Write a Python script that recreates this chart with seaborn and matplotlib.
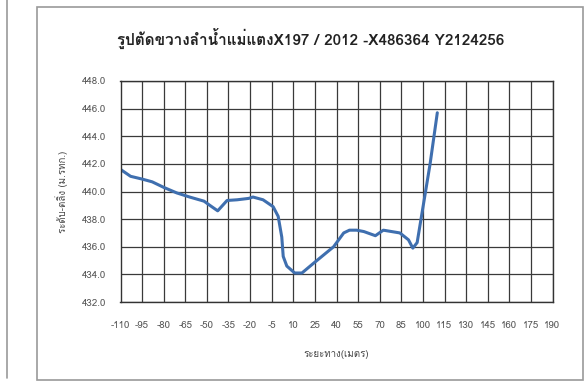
import matplotlib
matplotlib.use("Agg")
import matplotlib.pyplot as plt
from matplotlib import font_manager
from matplotlib.ft2font import FT2Font
from matplotlib.lines import Line2D
from matplotlib.patches import Rectangle
import seaborn as sns
import pandas as pd

# ---- data ----
distance = [-110, -103, -95, -88, -80, -71, -62, -52, -48, -42.5, -36, -29, -21,
            -18, -11, -4, -0.5, 2, 3, 5.5, 11, 16, 24, 38, 45, 49, 54, 59, 67,
            72.5, 84, 90, 93, 96, 99, 105, 110]
elevation = [441.6, 441.1, 440.9, 440.7, 440.3, 439.9, 439.6, 439.3, 439.0, 438.6,
             439.35, 439.4, 439.5, 439.6, 439.4, 438.9, 438.2, 436.7, 435.3, 434.6,
             434.1, 434.1, 434.8, 436.0, 437.0, 437.2, 437.2, 437.1, 436.8,
             437.2, 437.0, 436.5, 435.9, 436.3, 438.2, 442.0, 445.7]
x_ticks = list(range(-110, 191, 15))
y_ticks = [432.0, 434.0, 436.0, 438.0, 440.0, 442.0, 444.0, 446.0, 448.0]
title = "รูปตัดขวางลำน้ำแม่แตงX197 / 2012 -X486364 Y2124256"
x_label = "ระยะทาง(เมตร)"
y_label = "ระดับ-ตลิ่ง (ม.รทก.)"

sns.set_theme(style="white")

# find a font that has Thai glyphs
thai_family = None
for f in font_manager.fontManager.ttflist:
    try:
        cm = FT2Font(f.fname).get_charmap()
        if 0x0E23 in cm and 0x0E1B in cm:
            thai_family = f.name
            break
    except Exception:
        pass
fams = ([thai_family] if thai_family else []) + ["DejaVu Sans"]
plt.rcParams["font.family"] = fams
plt.rcParams["axes.unicode_minus"] = False

df = pd.DataFrame({"d": distance, "z": elevation})

fig = plt.figure(figsize=(5.88, 3.89), dpi=100)
ax = fig.add_axes([120.5 / 588, 1 - 302 / 389, (552.5 - 120.5) / 588, (302 - 81) / 389])

sns.lineplot(data=df, x="d", y="z", ax=ax, color="#3F6FAF", linewidth=2.2,
             sort=False, estimator=None)

ax.set_xlim(-110, 190)
ax.set_ylim(432, 448)
ax.set_xticks(x_ticks)
ax.set_xticklabels([str(v) for v in x_ticks])
ax.set_yticks(y_ticks)
ax.set_yticklabels([f"{v:.1f}" for v in y_ticks])
ax.grid(True, color="#3a3a3a", linewidth=0.9)
ax.set_axisbelow(True)
for s in ax.spines.values():
    s.set_color("#333333")
    s.set_linewidth(1.0)
ax.tick_params(axis="both", labelsize=7, colors="#555555", length=0)
ax.tick_params(axis="x", pad=14)
ax.tick_params(axis="y", pad=10)
ax.set_xlabel(x_label, fontsize=7, color="#444444", labelpad=14)
ax.set_ylabel(y_label, fontsize=7, color="#444444", labelpad=10)

fig.text(311 / 588, 1 - 38 / 389, title, ha="center", va="center",
         fontsize=11, color="#222222", fontweight="semibold")

# frames
fig.add_artist(Rectangle((37 / 588, 1 - 380 / 389), (583 - 37) / 588, (380 - 7) / 389,
                         transform=fig.transFigure, fill=False,
                         edgecolor="#9a9a9a", linewidth=1.2))
fig.add_artist(Line2D([7 / 588, 7 / 588], [1 - 378 / 389, 1.0],
                      transform=fig.transFigure, color="#9a9a9a", linewidth=1.2))

fig.savefig("out.png", dpi=100, facecolor="white")
